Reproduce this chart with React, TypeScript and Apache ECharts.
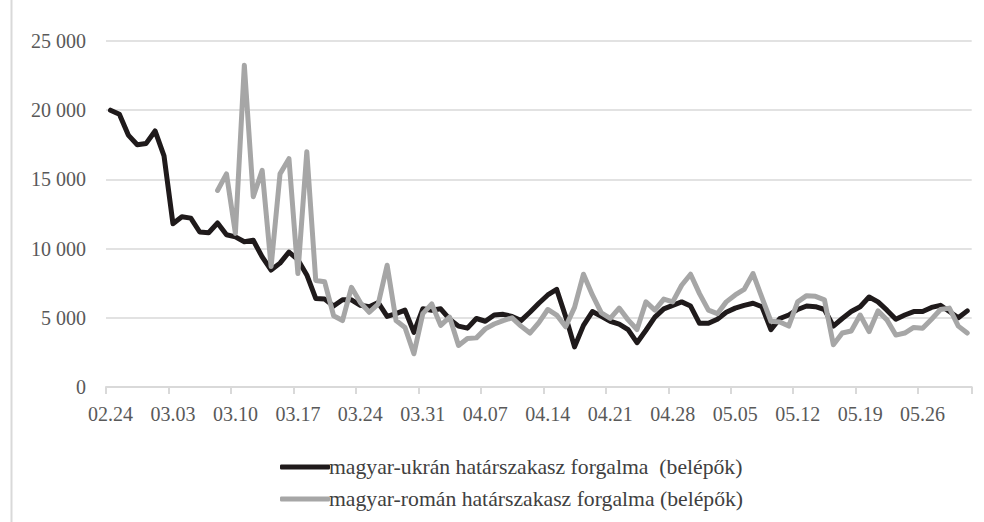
import React, { useEffect, useRef } from 'react';
import * as echarts from 'echarts';

const categories: string[] = [
  '02.24', '02.25', '02.26', '02.27', '02.28',
  '03.01', '03.02', '03.03', '03.04', '03.05', '03.06', '03.07', '03.08', '03.09', '03.10',
  '03.11', '03.12', '03.13', '03.14', '03.15', '03.16', '03.17', '03.18', '03.19', '03.20',
  '03.21', '03.22', '03.23', '03.24', '03.25', '03.26', '03.27', '03.28', '03.29', '03.30', '03.31',
  '04.01', '04.02', '04.03', '04.04', '04.05', '04.06', '04.07', '04.08', '04.09', '04.10',
  '04.11', '04.12', '04.13', '04.14', '04.15', '04.16', '04.17', '04.18', '04.19', '04.20',
  '04.21', '04.22', '04.23', '04.24', '04.25', '04.26', '04.27', '04.28', '04.29', '04.30',
  '05.01', '05.02', '05.03', '05.04', '05.05', '05.06', '05.07', '05.08', '05.09', '05.10',
  '05.11', '05.12', '05.13', '05.14', '05.15', '05.16', '05.17', '05.18', '05.19', '05.20',
  '05.21', '05.22', '05.23', '05.24', '05.25', '05.26', '05.27', '05.28', '05.29', '05.30', '05.31',
];

const ukrName = 'magyar-ukrán határszakasz forgalma  (belépők)';
const romName = 'magyar-román határszakasz forgalma (belépők)';

const ukrValues: number[] = [
  20000, 19700, 18200, 17500, 17600, 18500, 16700, 11800, 12300, 12200,
  11200, 11150, 11850, 11000, 10850, 10500, 10600, 9400, 8450, 8950,
  9750, 9200, 8100, 6400, 6350, 5850, 6300, 6300, 5900, 5800,
  6100, 5100, 5300, 5550, 3950, 5650, 5550, 5650, 4900, 4400,
  4250, 4950, 4750, 5200, 5250, 5100, 4800, 5400, 6050, 6650,
  7050, 5100, 2900, 4450, 5450, 5100, 4750, 4550, 4150, 3200,
  4100, 5050, 5650, 5900, 6150, 5850, 4600, 4600, 4900, 5400,
  5700, 5900, 6050, 5800, 4150, 4950, 5200, 5600, 5850, 5800,
  5600, 4400, 4950, 5450, 5800, 6500, 6150, 5550, 4900, 5200,
  5450, 5450, 5750, 5900, 5450, 5000, 5500,
];

const romValues: (number | null)[] = [
  null, null, null, null, null, null, null, null, null, null,
  null, null, 14200, 15400, 11100, 23250, 13750, 15650, 8700, 15400,
  16500, 8200, 17000, 7700, 7600, 5150, 4800, 7200, 6100, 5400,
  6000, 8800, 4800, 4300, 2400, 5300, 6000, 4450, 5050, 3000,
  3500, 3550, 4200, 4550, 4800, 5000, 4400, 3900, 4650, 5600,
  5200, 4350, 5750, 8150, 6650, 5350, 4950, 5700, 4850, 4150,
  6150, 5550, 6350, 6150, 7350, 8150, 6750, 5550, 5300, 6150,
  6650, 7050, 8200, 6450, 4750, 4700, 4400, 6150, 6600, 6550,
  6300, 3050, 3900, 4050, 5200, 4000, 5500, 4850, 3750, 3900,
  4300, 4250, 4900, 5600, 5700, 4400, 3900,
];

const yMin = 0;
const yMax = 25000;
const yStep = 5000;

const fontFamily = "'Liberation Serif', 'Times New Roman', serif";

export default function App() {
  const ref = useRef<HTMLDivElement>(null);

  useEffect(() => {
    if (!ref.current) return;
    const chart = echarts.init(ref.current, null, { renderer: 'svg' });
    chart.setOption({
      animation: false,
      backgroundColor: '#ffffff',
      grid: { left: 106, right: 12.3, top: 41, bottom: 135 },
      xAxis: {
        type: 'category',
        data: categories,
        boundaryGap: true,
        axisLine: { show: true, lineStyle: { color: '#d9d9d9', width: 2 } },
        axisTick: { show: true, interval: 6, length: 7, lineStyle: { color: '#d9d9d9', width: 2 } },
        axisLabel: { interval: 6, margin: 17, color: '#595959', fontSize: 20, fontFamily },
        splitLine: { show: false },
      },
      yAxis: {
        type: 'value',
        min: yMin,
        max: yMax,
        interval: yStep,
        axisLine: { show: false },
        axisTick: { show: false },
        axisLabel: {
          margin: 20,
          color: '#595959',
          fontSize: 20,
          fontFamily,
          formatter: (v: number) => String(v).replace(/\B(?=(\d{3})+(?!\d))/g, ' '),
        },
        splitLine: { show: true, lineStyle: { color: '#d9d9d9', width: 1.5 } },
      },
      legend: {
        orient: 'vertical',
        left: 275,
        top: 450,
        itemWidth: 50,
        itemHeight: 5,
        itemGap: 8,
        icon: 'roundRect',
        data: [ukrName, romName],
        textStyle: { fontSize: 21.7, lineHeight: 24, color: '#404040', fontFamily, padding: [0, 0, 0, -6] },
      },
      series: [
        {
          name: ukrName,
          type: 'line',
          data: ukrValues,
          symbol: 'none',
          lineStyle: { color: '#1f1a1b', width: 5, cap: 'round', join: 'round' },
          itemStyle: { color: '#1f1a1b' },
          z: 2,
        },
        {
          name: romName,
          type: 'line',
          data: romValues,
          symbol: 'none',
          lineStyle: { color: '#a6a6a6', width: 5, cap: 'round', join: 'round' },
          itemStyle: { color: '#a6a6a6' },
          z: 3,
        },
      ],
      graphic: [
        {
          type: 'line',
          shape: { x1: 11.5, y1: 0, x2: 11.5, y2: 522 },
          style: { stroke: '#d9d9d9', lineWidth: 2 },
        },
      ],
    });
    return () => chart.dispose();
  }, []);

  return (
    <div
      ref={ref}
      style={{ position: 'absolute', left: 0, top: 0, width: 984, height: 522, background: '#ffffff' }}
    />
  );
}
